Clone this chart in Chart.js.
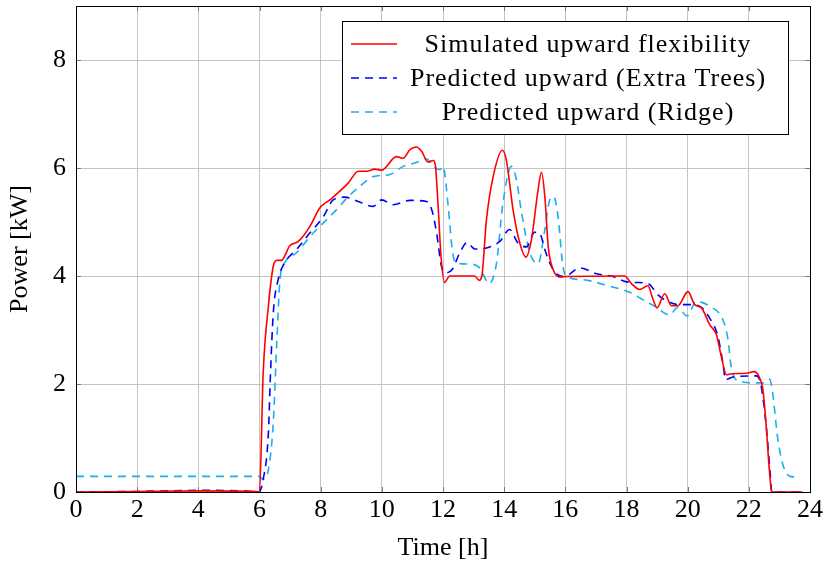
<!DOCTYPE html>
<html>
<head>
<meta charset="utf-8">
<script src="https://cdn.jsdelivr.net/npm/chart.js@4/dist/chart.umd.min.js"></script>
<style>
html,body{margin:0;padding:0;background:#fff;}
#wrap{width:826px;height:563px;}
</style>
</head>
<body>
<div id="wrap"><canvas id="c" width="826" height="563"></canvas></div>
<script>
// ---- data ----
const seriesLabels = ["Simulated upward flexibility", "Predicted upward (Extra Trees)", "Predicted upward (Ridge)"];
const xTicks = [0, 2, 4, 6, 8, 10, 12, 14, 16, 18, 20, 22, 24];
const yTicks = [0, 2, 4, 6, 8];

const simHours = [0, 2, 4, 5.9, 6.0, 6.12, 6.29, 6.45, 6.56, 6.72, 6.99, 7.27, 7.65, 7.97, 8.30, 8.90, 9.23, 9.50, 9.77, 9.99, 10.48, 10.70, 10.92, 11.13, 11.30, 11.51, 11.68, 11.75, 11.84, 11.93, 12.05, 12.22, 13.04, 13.18, 13.27, 13.42, 13.64, 13.94, 14.07, 14.29, 14.51, 14.71, 14.89, 15.11, 15.22, 15.33, 15.44, 15.6, 15.82, 16.03, 17.94, 18.16, 18.43, 18.70, 18.87, 19.0, 19.25, 19.47, 19.68, 20.01, 20.23, 20.45, 20.72, 20.94, 21.10, 21.27, 21.43, 21.92, 22.16, 22.33, 22.46, 22.57, 22.67, 22.75, 23.75];
const simPower = [0, 0.01, 0.02, 0.01, 0, 2.2, 3.44, 4.18, 4.29, 4.29, 4.56, 4.64, 4.92, 5.26, 5.41, 5.72, 5.94, 5.94, 5.98, 5.96, 6.21, 6.18, 6.34, 6.39, 6.31, 6.11, 6.14, 6.05, 5.3, 4.4, 3.88, 4.0, 4.0, 3.92, 4.0, 5.04, 5.84, 6.33, 6.15, 5.23, 4.61, 4.35, 4.67, 5.6, 5.92, 5.47, 4.55, 4.12, 3.98, 3.99, 4.0, 3.86, 3.75, 3.82, 3.56, 3.41, 3.67, 3.45, 3.45, 3.71, 3.47, 3.41, 3.1, 2.91, 2.51, 2.17, 2.19, 2.2, 2.23, 2.14, 1.89, 1.21, 0.41, 0, 0];

const etHours = [0, 2, 4, 5.5, 5.97, 6.12, 6.29, 6.36, 6.45, 6.61, 6.83, 7.21, 7.65, 8.08, 8.41, 8.79, 9.23, 9.72, 9.99, 10.37, 10.92, 11.46, 11.63, 11.79, 11.95, 12.11, 12.30, 12.55, 12.79, 13.04, 13.42, 13.86, 14.18, 14.45, 14.73, 15.0, 15.15, 15.33, 15.49, 15.71, 15.98, 16.47, 17.02, 17.56, 17.94, 18.32, 18.70, 19.03, 19.3, 19.74, 20.06, 20.39, 20.72, 20.99, 21.15, 21.24, 21.48, 22.24, 22.39, 22.57, 22.7, 22.75, 23.75];
const etPower = [0, 0.01, 0.03, 0.02, 0, 0.23, 1.09, 2.2, 3.31, 3.93, 4.25, 4.49, 4.8, 5.09, 5.41, 5.46, 5.38, 5.29, 5.41, 5.32, 5.4, 5.38, 5.23, 4.8, 4.18, 4.06, 4.12, 4.43, 4.62, 4.5, 4.52, 4.64, 4.86, 4.61, 4.54, 4.81, 4.8, 4.49, 4.24, 4.04, 3.99, 4.15, 4.04, 3.99, 3.9, 3.88, 3.86, 3.65, 3.54, 3.47, 3.47, 3.44, 3.22, 2.88, 2.39, 2.08, 2.13, 2.15, 2.0, 1.21, 0.33, 0, 0];

const ridgeHours = [0, 2, 4, 6.0, 6.12, 6.29, 6.45, 6.56, 6.67, 6.83, 7.21, 7.76, 8.19, 8.52, 8.85, 9.28, 9.72, 10.26, 10.70, 11.24, 11.46, 11.68, 11.9, 12.0, 12.17, 12.3, 12.42, 12.88, 13.2, 13.51, 13.75, 13.96, 14.24, 14.4, 14.57, 14.84, 15.11, 15.33, 15.49, 15.62, 15.76, 15.92, 16.03, 16.58, 17.45, 18.1, 18.54, 18.92, 19.41, 19.68, 19.98, 20.28, 20.72, 21.15, 21.32, 21.42, 21.7, 22.24, 22.46, 22.68, 22.78, 22.95, 23.17, 23.44, 23.6];
const ridgePower = [0.29, 0.29, 0.29, 0.29, 0.23, 0.41, 1.28, 2.7, 3.93, 4.25, 4.43, 4.8, 5.04, 5.23, 5.44, 5.66, 5.84, 5.88, 6.03, 6.12, 6.17, 6.03, 5.97, 6.03, 5.29, 4.5, 4.24, 4.22, 4.15, 3.86, 4.24, 5.35, 6.03, 5.78, 5.17, 4.43, 4.23, 4.86, 5.41, 5.47, 5.11, 4.18, 3.99, 3.93, 3.81, 3.7, 3.56, 3.44, 3.28, 3.42, 3.26, 3.53, 3.44, 3.19, 2.82, 2.33, 2.05, 2.02, 2.02, 2.09, 1.83, 0.97, 0.41, 0.28, 0.29];

// ---- build ----
const pts = (xs, ys) => xs.map((x, i) => ({x: x, y: ys[i]}));
const FONT = "'Liberation Serif', 'Times New Roman', serif";
const FS = 26;

const frameLegend = {
  id: 'frameLegend',
  beforeDatasetsDraw(chart) {
    // pgfplots-style inward tick marks
    const ctx = chart.ctx, a = chart.chartArea;
    const xs = chart.scales.x, ys = chart.scales.y;
    ctx.save();
    ctx.strokeStyle = '#7a7a7a';
    ctx.lineWidth = 1;
    ctx.beginPath();
    xTicks.forEach(v => {
      const px = Math.round(xs.getPixelForValue(v)) + 0.5;
      ctx.moveTo(px, a.bottom); ctx.lineTo(px, a.bottom - 5);
      ctx.moveTo(px, a.top); ctx.lineTo(px, a.top + 5);
    });
    yTicks.forEach(v => {
      const py = Math.round(ys.getPixelForValue(v)) + 0.5;
      ctx.moveTo(a.left, py); ctx.lineTo(a.left + 5, py);
      ctx.moveTo(a.right, py); ctx.lineTo(a.right - 5, py);
    });
    ctx.stroke();
    ctx.restore();
  },
  afterDraw(chart) {
    const ctx = chart.ctx, a = chart.chartArea;
    ctx.save();
    ctx.strokeStyle = '#000';
    ctx.lineWidth = 1;
    ctx.strokeRect(Math.round(a.left) + 0.5, Math.round(a.top) + 0.5, Math.round(a.right - a.left), Math.round(a.bottom - a.top));
    // legend box
    const bx = 342, by = 21, bw = 446, bh = 113;
    ctx.fillStyle = '#fff';
    ctx.fillRect(bx, by, bw, bh);
    ctx.strokeRect(bx + 0.5, by + 0.5, bw, bh);
    const rowY = [44, 78, 112];
    chart.data.datasets.forEach((ds, i) => {
      ctx.beginPath();
      ctx.strokeStyle = ds.borderColor;
      ctx.lineWidth = ds.borderWidth;
      ctx.setLineDash(ds.borderDash || []);
      ctx.moveTo(351, rowY[i]);
      ctx.lineTo(397, rowY[i]);
      ctx.stroke();
      ctx.setLineDash([]);
      ctx.fillStyle = '#000';
      ctx.font = FS + 'px ' + FONT;
      ctx.textAlign = 'center';
      ctx.textBaseline = 'middle';
      try { ctx.letterSpacing = '1px'; } catch (e) {}
      ctx.fillText(ds.label, 588, rowY[i] + 1);
      try { ctx.letterSpacing = '0px'; } catch (e) {}
    });
    ctx.restore();
  }
};

new Chart(document.getElementById('c'), {
  type: 'line',
  data: {
    datasets: [
      {label: seriesLabels[0], data: pts(simHours, simPower), borderColor: '#ff0000', borderWidth: 1.6, pointRadius: 0, fill: false, cubicInterpolationMode: 'monotone'},
      {label: seriesLabels[1], data: pts(etHours, etPower), borderColor: '#0000ff', borderWidth: 1.6, borderDash: [8, 6], pointRadius: 0, fill: false, cubicInterpolationMode: 'monotone'},
      {label: seriesLabels[2], data: pts(ridgeHours, ridgePower), borderColor: '#1aaeee', borderWidth: 1.6, borderDash: [8, 6], pointRadius: 0, fill: false, cubicInterpolationMode: 'monotone'}
    ]
  },
  options: {
    responsive: false,
    animation: false,
    devicePixelRatio: 1,
    layout: {padding: {left: 0, right: 16, top: 6, bottom: 0}},
    plugins: {legend: {display: false}, tooltip: {enabled: false}},
    scales: {
      x: {
        type: 'linear', min: 0, max: 24,
        afterBuildTicks: s => { s.ticks = xTicks.map(v => ({value: v})); },
        afterFit: s => { s.height = 71; s.paddingLeft = 0; s.paddingRight = 0; },
        ticks: {color: '#000', font: {family: FONT, size: FS}, padding: 3, maxRotation: 0, autoSkip: false},
        grid: {color: '#c4c4c4', lineWidth: 1, drawTicks: false},
        border: {display: false},
        title: {display: true, text: 'Time [h]', color: '#000', font: {family: FONT, size: FS, lineHeight: 1.0}, padding: {top: 0, bottom: 2}}
      },
      y: {
        type: 'linear', min: 0, max: 9,
        afterBuildTicks: s => { s.ticks = yTicks.map(v => ({value: v})); },
        afterFit: s => { s.width = 76; s.paddingTop = 0; s.paddingBottom = 0; },
        ticks: {color: '#000', font: {family: FONT, size: FS}, padding: 10},
        grid: {color: '#c4c4c4', lineWidth: 1, drawTicks: false},
        border: {display: false},
        title: {display: true, text: 'Power [kW]', color: '#000', font: {family: FONT, size: FS}, padding: {top: 5, bottom: 0}}
      }
    }
  },
  plugins: [frameLegend]
});
</script>
</body>
</html>
